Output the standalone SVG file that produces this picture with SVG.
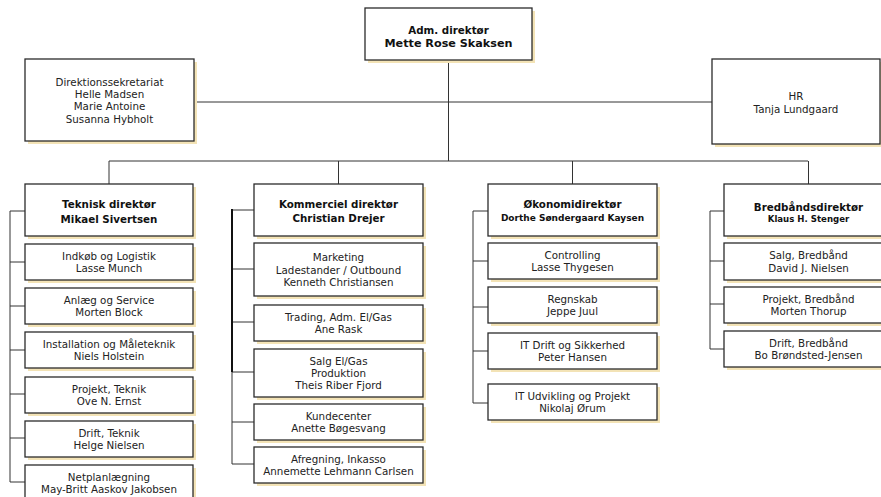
<svg xmlns="http://www.w3.org/2000/svg" width="881" height="497" viewBox="0 0 881 497">
<style>
.sh{fill:#f3e3b6}
.bx{fill:#fff;stroke:#2b2b2b;stroke-width:1.3}
.t{font-family:"DejaVu Sans",Verdana,sans-serif;font-size:10.3px;fill:#222;text-anchor:middle}
.b{font-weight:bold;fill:#111}
.ln{stroke:#333;stroke-width:1;fill:none}
</style>
<rect width="881" height="497" fill="#fff"/>
<g id="connectors">
<path class="ln" d="M448.5 60V161M194 102H712M109 161H808M109 161V184M338.5 161V184M572.5 161V184M808.5 161V184"/>
<path class="ln" d="M10 211V482M10 211H25M10 262H25M10 306H25M10 350H25M10 394H25M10 438H25M10 482H25"/>
<path class="ln" d="M232 372V464M232 210H254M232 269H254M232 322H254M232 372H254M232 422H254M232 464H254"/>
<path d="M232 209V372" stroke="#111" stroke-width="2" fill="none"/>
<path class="ln" d="M473 211V403M473 211H488M473 261H488M473 307H488M473 351H488M473 403H488"/>
<path class="ln" d="M710 211V349M710 211H724M710 261H724M710 304H724M710 349H724"/>
</g>
<g id="adm">
<rect class="sh" x="368" y="11" width="167" height="52"/><rect class="bx" x="365" y="8" width="167" height="52"/>
<text class="t b" x="448.5" y="34.2" style="font-size:10.3px">Adm. direktør</text>
<text class="t b" x="448.5" y="46.5" style="font-size:11.2px">Mette Rose Skaksen</text>
</g>
<g id="direktionssekretariat">
<rect class="sh" x="28" y="62" width="169" height="82"/><rect class="bx" x="25" y="59" width="169" height="82"/>
<text class="t" x="109.5" y="85.7">Direktionssekretariat</text>
<text class="t" x="109.5" y="98">Helle Madsen</text>
<text class="t" x="109.5" y="110.3">Marie Antoine</text>
<text class="t" x="109.5" y="122.6">Susanna Hybholt</text>
</g>
<g id="hr">
<rect class="sh" x="715" y="62" width="168" height="85"/><rect class="bx" x="712" y="59" width="168" height="85"/>
<text class="t" x="796" y="100">HR</text>
<text class="t" x="796" y="112.5">Tanja Lundgaard</text>
</g>
<g id="teknisk">
<rect class="sh" x="28" y="187" width="168" height="52"/><rect class="bx" x="25" y="184" width="168" height="52"/>
<text class="t b" x="109" y="207.5">Teknisk direktør</text>
<text class="t b" x="109" y="222.5">Mikael Sivertsen</text>
</g>
<g id="indkoeb">
<rect class="sh" x="28" y="247" width="168" height="36"/><rect class="bx" x="25" y="244" width="168" height="36"/>
<text class="t" x="109" y="259.8">Indkøb og Logistik</text><text class="t" x="109" y="272.1">Lasse Munch</text>
</g>
<g id="anlaeg">
<rect class="sh" x="28" y="291" width="168" height="36"/><rect class="bx" x="25" y="288" width="168" height="36"/>
<text class="t" x="109" y="303.8">Anlæg og Service</text><text class="t" x="109" y="316.1">Morten Block</text>
</g>
<g id="installation">
<rect class="sh" x="28" y="335" width="168" height="36"/><rect class="bx" x="25" y="332" width="168" height="36"/>
<text class="t" x="109" y="347.8">Installation og Måleteknik</text><text class="t" x="109" y="360.1">Niels Holstein</text>
</g>
<g id="projekt-teknik">
<rect class="sh" x="28" y="380" width="168" height="36"/><rect class="bx" x="25" y="377" width="168" height="36"/>
<text class="t" x="109" y="392.8">Projekt, Teknik</text><text class="t" x="109" y="405.1">Ove N. Ernst</text>
</g>
<g id="drift-teknik">
<rect class="sh" x="28" y="424" width="168" height="36"/><rect class="bx" x="25" y="421" width="168" height="36"/>
<text class="t" x="109" y="436.8">Drift, Teknik</text><text class="t" x="109" y="449.1">Helge Nielsen</text>
</g>
<g id="netplan">
<rect class="sh" x="28" y="468" width="168" height="36"/><rect class="bx" x="25" y="465" width="168" height="36"/>
<text class="t" x="109" y="480.8">Netplanlægning</text><text class="t" x="109" y="493.1">May-Britt Aaskov Jakobsen</text>
</g>
<g id="kommerciel">
<rect class="sh" x="257" y="187" width="169" height="52"/><rect class="bx" x="254" y="184" width="169" height="52"/>
<text class="t b" x="338.5" y="207.5">Kommerciel direktør</text>
<text class="t b" x="338.5" y="222">Christian Drejer</text>
</g>
<g id="marketing">
<rect class="sh" x="257" y="246" width="169" height="53"/><rect class="bx" x="254" y="243" width="169" height="53"/>
<text class="t" x="338.5" y="261.2">Marketing</text><text class="t" x="338.5" y="273.5">Ladestander / Outbound</text><text class="t" x="338.5" y="285.8">Kenneth Christiansen</text>
</g>
<g id="trading">
<rect class="sh" x="257" y="308" width="169" height="36"/><rect class="bx" x="254" y="305" width="169" height="36"/>
<text class="t" x="338.5" y="320.8">Trading, Adm. El/Gas</text><text class="t" x="338.5" y="333.1">Ane Rask</text>
</g>
<g id="salg-elgas">
<rect class="sh" x="257" y="352" width="169" height="48"/><rect class="bx" x="254" y="349" width="169" height="48"/>
<text class="t" x="338.5" y="364.7">Salg El/Gas</text><text class="t" x="338.5" y="377">Produktion</text><text class="t" x="338.5" y="389.3">Theis Riber Fjord</text>
</g>
<g id="kundecenter">
<rect class="sh" x="257" y="407" width="169" height="36"/><rect class="bx" x="254" y="404" width="169" height="36"/>
<text class="t" x="338.5" y="419.8">Kundecenter</text><text class="t" x="338.5" y="432.1">Anette Bøgesvang</text>
</g>
<g id="afregning">
<rect class="sh" x="257" y="450" width="169" height="36"/><rect class="bx" x="254" y="447" width="169" height="36"/>
<text class="t" x="338.5" y="462.8">Afregning, Inkasso</text><text class="t" x="338.5" y="475.1">Annemette Lehmann Carlsen</text>
</g>
<g id="oekonomi">
<rect class="sh" x="491" y="187" width="169" height="52"/><rect class="bx" x="488" y="184" width="169" height="52"/>
<text class="t b" x="572.5" y="208">Økonomidirektør</text>
<text class="t b" x="572.5" y="220.5" style="font-size:9px">Dorthe Søndergaard Kaysen</text>
</g>
<g id="controlling">
<rect class="sh" x="491" y="246" width="169" height="36"/><rect class="bx" x="488" y="243" width="169" height="36"/>
<text class="t" x="572.5" y="258.8">Controlling</text><text class="t" x="572.5" y="271.1">Lasse Thygesen</text>
</g>
<g id="regnskab">
<rect class="sh" x="491" y="290" width="169" height="36"/><rect class="bx" x="488" y="287" width="169" height="36"/>
<text class="t" x="572.5" y="302.8">Regnskab</text><text class="t" x="572.5" y="315.1">Jeppe Juul</text>
</g>
<g id="it-drift">
<rect class="sh" x="491" y="336" width="169" height="36"/><rect class="bx" x="488" y="333" width="169" height="36"/>
<text class="t" x="572.5" y="348.8">IT Drift og Sikkerhed</text><text class="t" x="572.5" y="361.1">Peter Hansen</text>
</g>
<g id="it-udvikling">
<rect class="sh" x="491" y="387" width="169" height="36"/><rect class="bx" x="488" y="384" width="169" height="36"/>
<text class="t" x="572.5" y="399.8">IT Udvikling og Projekt</text><text class="t" x="572.5" y="412.1">Nikolaj Ørum</text>
</g>
<g id="bredbaand">
<rect class="sh" x="727" y="187" width="169" height="52"/><rect class="bx" x="724" y="184" width="169" height="52"/>
<text class="t b" x="808.5" y="210.5">Bredbåndsdirektør</text>
<text class="t b" x="808.5" y="221.5" style="font-size:8.6px">Klaus H. Stenger</text>
</g>
<g id="salg-bredbaand">
<rect class="sh" x="727" y="246" width="169" height="37"/><rect class="bx" x="724" y="243" width="169" height="37"/>
<text class="t" x="808.5" y="259.3">Salg, Bredbånd</text><text class="t" x="808.5" y="271.6">David J. Nielsen</text>
</g>
<g id="projekt-bredbaand">
<rect class="sh" x="727" y="290" width="169" height="36"/><rect class="bx" x="724" y="287" width="169" height="36"/>
<text class="t" x="808.5" y="302.8">Projekt, Bredbånd</text><text class="t" x="808.5" y="315.1">Morten Thorup</text>
</g>
<g id="drift-bredbaand">
<rect class="sh" x="727" y="334" width="169" height="36"/><rect class="bx" x="724" y="331" width="169" height="36"/>
<text class="t" x="808.5" y="346.8">Drift, Bredbånd</text><text class="t" x="808.5" y="359.1">Bo Brøndsted-Jensen</text>
</g>
</svg>
